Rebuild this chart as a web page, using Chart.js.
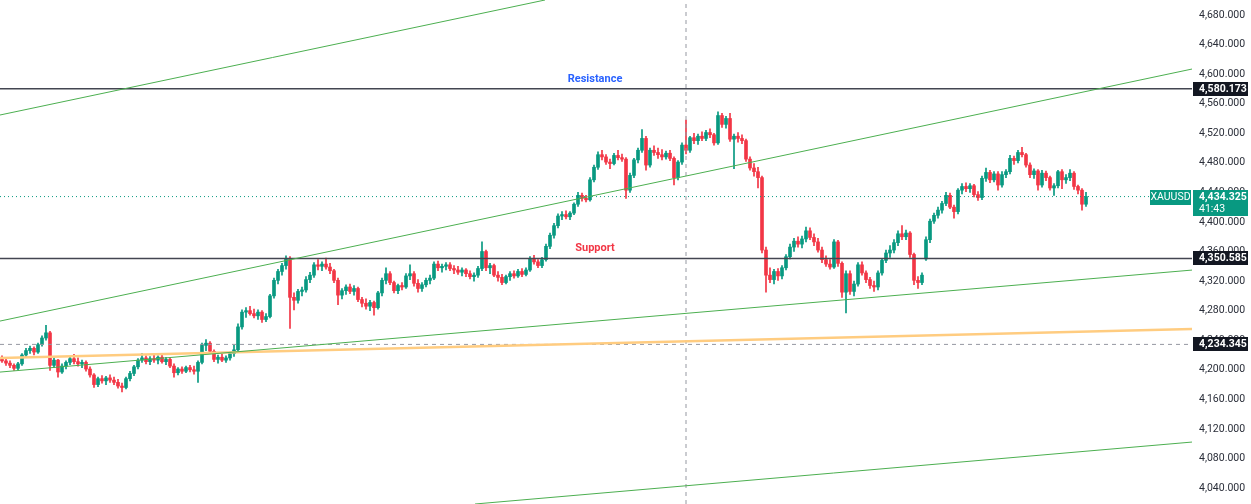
<!DOCTYPE html>
<html>
<head>
<meta charset="utf-8">
<script src="https://cdn.jsdelivr.net/npm/chart.js@4.4.1/dist/chart.umd.min.js"></script>
<style>
  html, body { margin: 0; padding: 0; background: #fff; }
  canvas { display: block; }
</style>
</head>
<body>
<canvas id="chart" width="1251" height="504"></canvas>
<script>
// XAUUSD candles (one value per candle, left to right)
const opens = [
  4216,4212,4209,4206,4202,4208,4220,4226,4229,4224,
  4234,4243,4250,4206,4213,4197,4205,4210,4215,4211,
  4208,4210,4201,4193,4180,4188,4185,4189,4186,4183,
  4178,4176,4188,4195,4204,4213,4216,4211,4215,4213,
  4217,4211,4214,4205,4196,4201,4198,4203,4200,4198,
  4210,4233,4236,4225,4214,4217,4213,4216,4222,4227,
  4258,4278,4280,4276,4273,4278,4268,4272,4300,4321,
  4333,4341,4350,4298,4294,4306,4308,4322,4328,4342,
  4340,4343,4339,4334,4321,4301,4307,4312,4306,4310,
  4295,4290,4286,4291,4284,4304,4321,4330,4318,4307,
  4314,4312,4327,4330,4317,4310,4315,4321,4324,4343,
  4338,4340,4342,4337,4335,4332,4335,4330,4326,4328,
  4337,4360,4338,4341,4328,4325,4318,4326,4330,4327,
  4333,4329,4335,4350,4346,4341,4349,4367,4382,4395,
  4408,4410,4407,4412,4424,4436,4432,4430,4457,4474,
  4491,4488,4481,4479,4490,4487,4485,4443,4463,4484,
  4497,4513,4477,4497,4494,4491,4488,4493,4486,4460,
  4481,4504,4497,4514,4510,4516,4513,4521,4518,4507,
  4544,4532,4540,4512,4516,4513,4510,4485,4473,4468,
  4460,4362,4328,4322,4333,4327,4338,4353,4366,4374,
  4370,4377,4388,4379,4373,4362,4349,4343,4339,4373,
  4344,4305,4330,4306,4316,4342,4331,4322,4314,4312,
  4331,4348,4358,4362,4372,4384,4380,4385,4356,4321,
  4318,4350,4376,4401,4409,4416,4425,4436,4420,4414,
  4443,4448,4445,4449,4437,4433,4459,4467,4457,4465,
  4450,4464,4468,4486,4483,4494,4491,4477,4464,4469,
  4450,4466,4460,4446,4449,4468,4457,4460,4466,4448,
  4443,4424
];
const highs = [
  4219,4215,4212,4208,4210,4222,4229,4232,4231,4236,
  4246,4260,4252,4216,4214,4208,4212,4218,4221,4216,
  4213,4212,4204,4195,4190,4192,4191,4193,4190,4187,
  4182,4190,4198,4206,4215,4222,4219,4218,4220,4219,
  4220,4217,4216,4208,4203,4204,4205,4206,4205,4212,
  4236,4241,4238,4227,4220,4221,4219,4224,4233,4262,
  4281,4284,4286,4282,4281,4280,4276,4302,4324,4336,
  4344,4354,4353,4304,4309,4312,4326,4332,4345,4349,
  4346,4351,4344,4336,4324,4310,4315,4316,4314,4312,
  4298,4296,4294,4293,4306,4324,4338,4333,4320,4316,
  4318,4330,4342,4333,4322,4318,4324,4328,4346,4347,
  4343,4345,4345,4341,4340,4338,4337,4334,4331,4340,
  4373,4362,4344,4343,4333,4329,4328,4333,4334,4336,
  4337,4338,4353,4355,4349,4352,4370,4385,4398,4411,
  4414,4415,4414,4426,4440,4439,4436,4460,4477,4495,
  4497,4491,4485,4493,4497,4492,4487,4466,4486,4500,
  4525,4516,4500,4503,4500,4498,4496,4497,4488,4483,
  4507,4538,4516,4520,4519,4522,4524,4526,4520,4549,
  4547,4543,4547,4519,4521,4518,4512,4488,4479,4474,
  4462,4366,4338,4336,4337,4341,4356,4370,4378,4380,
  4381,4393,4392,4384,4378,4366,4354,4349,4376,4375,
  4346,4334,4334,4320,4345,4346,4334,4325,4320,4334,
  4350,4362,4368,4376,4388,4395,4389,4387,4358,4326,
  4331,4380,4404,4412,4420,4428,4440,4439,4423,4445,
  4452,4453,4452,4451,4441,4462,4473,4470,4468,4468,
  4468,4471,4490,4489,4497,4501,4493,4480,4472,4471,
  4470,4469,4462,4452,4470,4471,4464,4471,4468,4450,
  4445,4440
];
const lows = [
  4210,4206,4203,4199,4200,4206,4217,4222,4220,4222,
  4232,4240,4199,4203,4190,4195,4201,4207,4208,4205,
  4203,4198,4190,4176,4177,4182,4180,4183,4180,4175,
  4170,4174,4185,4192,4201,4210,4208,4207,4210,4208,
  4209,4207,4203,4190,4193,4195,4196,4197,4194,4183,
  4208,4226,4222,4211,4209,4211,4210,4213,4218,4224,
  4255,4271,4274,4270,4268,4264,4265,4270,4297,4316,
  4328,4336,4256,4281,4290,4300,4305,4318,4325,4335,
  4334,4336,4330,4318,4288,4296,4302,4303,4301,4292,
  4285,4282,4280,4274,4282,4300,4316,4315,4304,4303,
  4308,4310,4322,4313,4305,4306,4312,4316,4322,4334,
  4332,4335,4334,4330,4329,4327,4326,4323,4320,4325,
  4334,4334,4330,4326,4320,4315,4316,4321,4324,4325,
  4326,4327,4333,4343,4338,4338,4347,4364,4378,4392,
  4403,4404,4403,4410,4421,4428,4427,4428,4454,4471,
  4484,4478,4472,4477,4484,4482,4432,4440,4460,4480,
  4494,4470,4474,4490,4486,4484,4485,4483,4450,4457,
  4478,4492,4494,4506,4505,4510,4510,4514,4504,4505,
  4528,4527,4509,4472,4508,4506,4482,4470,4462,4446,
  4358,4305,4318,4316,4321,4323,4335,4350,4360,4366,
  4365,4373,4376,4368,4359,4345,4340,4336,4337,4340,
  4298,4277,4302,4300,4313,4328,4318,4310,4306,4308,
  4328,4345,4352,4358,4368,4376,4376,4352,4315,4310,
  4315,4348,4372,4398,4405,4412,4422,4418,4405,4411,
  4438,4441,4440,4434,4429,4430,4455,4453,4454,4443,
  4447,4460,4465,4478,4480,4488,4474,4460,4459,4443,
  4447,4456,4443,4436,4446,4445,4452,4456,4444,4438,
  4416,4421
];
const closes = [
  4212,4209,4206,4202,4208,4220,4226,4229,4224,4234,
  4243,4250,4206,4213,4197,4205,4210,4215,4211,4208,
  4210,4201,4193,4180,4188,4185,4189,4186,4183,4178,
  4176,4188,4195,4204,4213,4216,4211,4215,4213,4217,
  4211,4214,4205,4196,4201,4198,4203,4200,4198,4210,
  4233,4236,4225,4214,4217,4213,4216,4222,4227,4258,
  4278,4280,4276,4273,4278,4268,4272,4300,4321,4333,
  4341,4350,4298,4294,4306,4308,4322,4328,4342,4340,
  4343,4339,4334,4321,4301,4307,4312,4306,4310,4295,
  4290,4286,4291,4284,4304,4321,4330,4318,4307,4314,
  4312,4327,4330,4317,4310,4315,4321,4324,4343,4338,
  4340,4342,4337,4335,4332,4335,4330,4326,4328,4337,
  4360,4338,4341,4328,4325,4318,4326,4330,4327,4333,
  4329,4335,4350,4346,4341,4349,4367,4382,4395,4408,
  4410,4407,4412,4424,4436,4432,4430,4457,4474,4491,
  4488,4481,4479,4490,4487,4485,4443,4463,4484,4497,
  4513,4477,4497,4494,4491,4488,4493,4486,4460,4481,
  4504,4497,4514,4510,4516,4513,4521,4518,4507,4544,
  4532,4540,4512,4516,4513,4510,4485,4473,4468,4460,
  4362,4328,4322,4333,4327,4338,4353,4366,4374,4370,
  4377,4388,4379,4373,4362,4349,4343,4339,4373,4344,
  4305,4330,4306,4316,4342,4331,4322,4314,4312,4331,
  4348,4358,4362,4372,4384,4380,4385,4356,4321,4318,
  4328,4376,4401,4409,4416,4425,4436,4420,4414,4443,
  4448,4445,4449,4437,4433,4459,4467,4457,4465,4450,
  4464,4468,4486,4483,4494,4491,4477,4464,4469,4450,
  4466,4460,4446,4449,4468,4457,4460,4466,4448,4443,
  4424,4434.325
];

// price axis ticks
const tickValues = [4040,4080,4120,4160,4200,4240,4280,4320,4360,4400,4440,4480,4520,4560,4600,4640,4680];

// horizontal levels
const resistance = 4580.173;
const support = 4350.585;
const crosshairPrice = 4234.345;
const lastPrice = 4434.325;
const countdown = '41:43';
const symbol = 'XAUUSD';
const crosshairBar = 171;

// trend lines: [bar index, price] pairs
const channelTop = [[-0.5, 4544.7], [135.75, 4700.3]];
const channelMid = [[-0.5, 4265.9], [297.5, 4606.9]];
const channelLow = [[-0.5, 4196.9], [297.5, 4334.9]];
const channelBottom = [[118.25, 4018.4], [297.5, 4102.2]];
const orangeLine = [[-0.5, 4216.0], [297.5, 4255.1]];

const X_MIN = -0.5, X_MAX = 297.5;
const Y_MIN = 4018.4, Y_MAX = 4700.3;

const UP = '#089981';
const DOWN = '#f23645';
const FONT = 'Roboto, "Open Sans", sans-serif';

const candleColors = closes.map((c, i) => c >= opens[i] ? UP : DOWN);

const seg = (pts, color, width, dash, order) => ({
  type: 'line',
  data: pts.map(p => ({ x: p[0], y: p[1] })),
  borderColor: color,
  borderWidth: width,
  borderDash: dash || [],
  pointRadius: 0,
  fill: false,
  tension: 0,
  order: order || 0
});

const hline = (price, color, width, dash) =>
  seg([[X_MIN, price], [X_MAX, price]], color, width, dash);

// labels + price badges on the right axis
const overlayPlugin = {
  id: 'overlay',
  afterDraw(chart) {
    const { ctx, chartArea, scales: { x, y } } = chart;
    ctx.save();

    // level captions
    ctx.font = 'bold 11px ' + FONT;
    ctx.textAlign = 'center';
    ctx.textBaseline = 'middle';
    ctx.fillStyle = '#2962ff';
    ctx.fillText('Resistance', x.getPixelForValue(148.25), y.getPixelForValue(resistance) - 10);
    ctx.fillStyle = DOWN;
    ctx.fillText('Support', x.getPixelForValue(148.25), y.getPixelForValue(support) - 10);

    const left = chartArea.right + 1;
    const fmt = v => v.toLocaleString('en-US', { minimumFractionDigits: 3, maximumFractionDigits: 3 });

    ctx.textAlign = 'left';
    ctx.font = 'bold 10.5px ' + FONT;
    [resistance, support, crosshairPrice].forEach(v => {
      const py = Math.round(y.getPixelForValue(v));
      ctx.fillStyle = '#131722';
      ctx.fillRect(left, py - 7, 55, 14);
      ctx.fillStyle = '#ffffff';
      ctx.fillText(fmt(v), left + 6, py + 0.5);
    });

    // last price
    const py = Math.round(y.getPixelForValue(lastPrice));
    ctx.fillStyle = UP;
    ctx.fillRect(left, py - 7, 55, 26);
    ctx.fillRect(left - 43, py - 7, 41, 15);
    ctx.fillStyle = '#ffffff';
    ctx.fillText(fmt(lastPrice), left + 6, py + 0.5);
    ctx.font = '10.5px ' + FONT;
    ctx.fillText(countdown, left + 6, py + 12.5);
    ctx.textAlign = 'center';
    ctx.fillText(symbol, left - 22.5, py + 0.5);

    ctx.restore();
  }
};

new Chart(document.getElementById('chart'), {
  type: 'bar',
  data: {
    datasets: [
      seg(channelTop, '#4caf50', 1),
      seg(channelMid, '#4caf50', 1),
      seg(channelLow, '#4caf50', 1),
      seg(channelBottom, '#4caf50', 1),
      seg(orangeLine, '#ffcc80', 2.5),
      hline(resistance, '#434651', 1.5),
      hline(support, '#434651', 1.5),
      hline(crosshairPrice, '#9598a1', 1, [4, 4]),
      hline(lastPrice, UP, 1, [1, 3]),
      seg([[crosshairBar, Y_MIN], [crosshairBar, Y_MAX]], '#9598a1', 1, [4, 4]),
      {
        type: 'bar',
        data: closes.map((c, i) => ({ x: i, y: [opens[i], c] })),
        backgroundColor: candleColors,
        barThickness: 3,
        minBarLength: 1,
        grouped: false,
        order: 1
      },
      {
        type: 'bar',
        data: closes.map((c, i) => ({ x: i, y: [lows[i], highs[i]] })),
        backgroundColor: candleColors,
        barThickness: 1,
        grouped: false,
        order: 2
      }
    ]
  },
  options: {
    responsive: false,
    animation: false,
    devicePixelRatio: 1,
    layout: { padding: 0 },
    plugins: {
      legend: { display: false },
      tooltip: { enabled: false }
    },
    scales: {
      x: {
        type: 'linear',
        min: X_MIN,
        max: X_MAX,
        offset: false,
        display: false
      },
      y: {
        position: 'right',
        min: Y_MIN,
        max: Y_MAX,
        afterBuildTicks: s => { s.ticks = tickValues.map(v => ({ value: v })); },
        afterFit: s => {
          s.width = 59;
          s.paddingTop = 0;
          s.paddingBottom = 0;
        },
        grid: { display: false, drawTicks: false },
        border: { display: false },
        ticks: {
          padding: 7,
          color: '#2a2e39',
          font: { size: 10.5, family: FONT },
          callback: v => v.toLocaleString('en-US', { minimumFractionDigits: 3, maximumFractionDigits: 3 })
        }
      }
    }
  },
  plugins: [overlayPlugin]
});
</script>
</body>
</html>
